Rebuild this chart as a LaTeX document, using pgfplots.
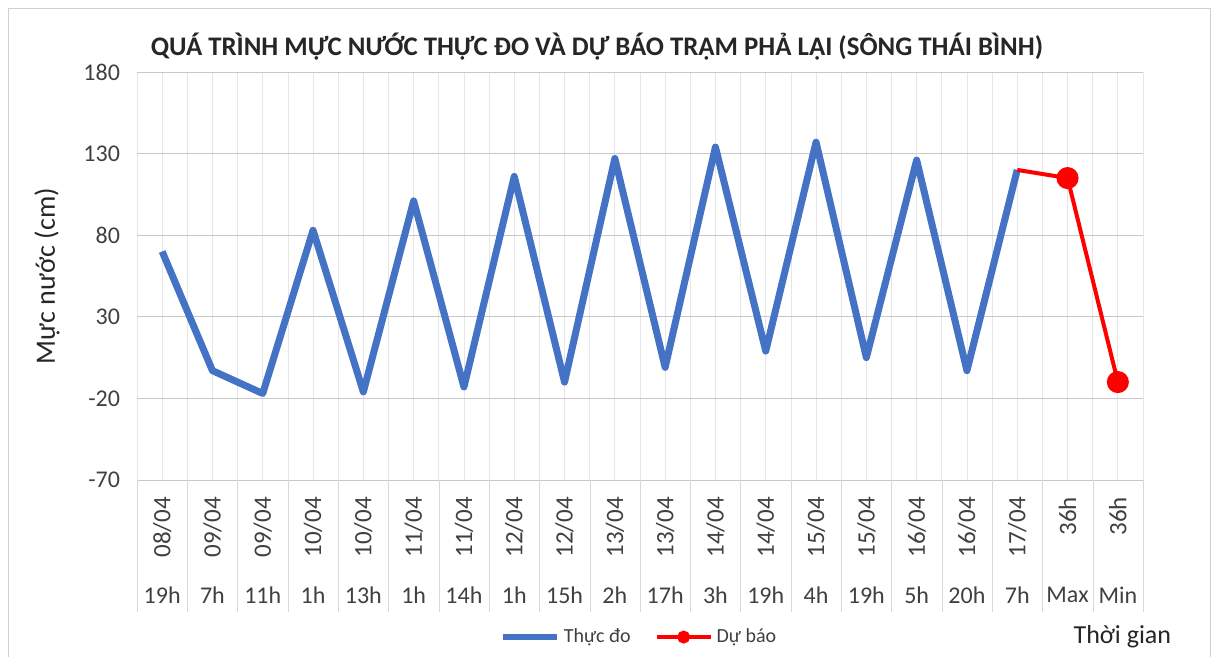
\documentclass[border=0pt]{standalone}
\usepackage{pgfplots}
\pgfplotsset{compat=1.18}
\usepackage{fontspec}
\setmainfont{Carlito}
\definecolor{excelblue}{HTML}{4472C4}
\definecolor{excelred}{HTML}{FF0000}
\definecolor{gridh}{HTML}{C8C8C8}
\definecolor{gridv}{HTML}{E6E6E6}
\definecolor{framegray}{HTML}{D0D0D0}
\definecolor{txt}{HTML}{404040}

\begin{document}
\begin{tikzpicture}
\useasboundingbox (-68.5pt,-88.5pt) rectangle (540pt,240pt);
\draw[framegray] (-64.5pt,236pt) rectangle (536.5pt,-95pt);
\node[font=\bfseries\fontsize{13.4}{15}\selectfont, text=black!85] at (230pt,216.5pt)
  {QUÁ TRÌNH MỰC NƯỚC THỰC ĐO VÀ DỰ BÁO TRẠM PHẢ LẠI (SÔNG THÁI BÌNH)};
\begin{axis}[
  at={(0pt,0pt)}, anchor=south west,
  scale only axis, width=503pt, height=204pt,
  clip=false,
  xmin=-0.5, xmax=19.5,
  ymin=-70, ymax=180,
  ytick={-70,-20,...,180},
  xtick={0,...,19},
  minor xtick={-0.5,0.5,...,19.5},
  xticklabels={08/04,09/04,09/04,10/04,10/04,11/04,11/04,12/04,12/04,13/04,
               13/04,14/04,14/04,15/04,15/04,16/04,16/04,17/04,36h,36h},
  xticklabel style={yshift=-5pt, rotate=90, anchor=east, font=\fontsize{12.5}{14}\selectfont, text=txt},
  yticklabel style={font=\fontsize{12}{14}\selectfont, text=txt, xshift=-5pt},
  /pgf/number format/assume math mode=true,
  tick pos=left, tick align=outside,
  major tick length=0pt, minor tick length=66pt,
  minor tick style={gridh!70},
  axis line style={draw=none},
  xmajorgrids, xminorgrids, ymajorgrids,
  major grid style={gridv},
  minor grid style={gridv},
  y grid style={gridh},
  ylabel={Mực nước (cm)},
  every axis y label/.style={at={(rel axis cs:0,0.5)}, xshift=-45pt, rotate=90, anchor=center,
    font=\fontsize{14}{16}\selectfont, text=black!85},
  legend style={at={(0.5,-0.385)}, anchor=center, draw=none, fill=none,
    legend columns=2, font=\fontsize{10}{12}\selectfont, text=txt,
    /tikz/every even column/.append style={column sep=10pt},
    inner sep=0pt, row sep=0pt},
  legend image code/.code={\draw[mark repeat=2,mark phase=2,#1]
    plot coordinates {(0pt,0pt) (13.5pt,0pt) (27pt,0pt)};},
]
\addplot[excelblue, line width=3.5pt, line join=round, forget plot] coordinates {
  (0,70) (1,-3) (2,-17) (3,83) (4,-16) (5,101) (6,-13) (7,116) (8,-10) (9,127)
  (10,-1) (11,134) (12,9) (13,137) (14,5) (15,126) (16,-3) (17,120)
};
\addplot[excelred, line width=2pt, mark=*, mark size=4.5pt, mark indices={2,3}, forget plot]
  coordinates {(17,120) (18,115) (19,-10)};

\addlegendimage{excelblue, line width=3pt}
\addlegendentry{Thực đo}
\addlegendimage{excelred, line width=2pt, mark=*, mark size=2.2pt}
\addlegendentry{Dự báo}

\tikzset{hr/.style={font=\fontsize{12}{14}\selectfont, text=txt, anchor=center, yshift=-57.5pt}}
\node[hr] at (axis cs:0,-70) {19h};
\node[hr] at (axis cs:1,-70) {7h};
\node[hr] at (axis cs:2,-70) {11h};
\node[hr] at (axis cs:3,-70) {1h};
\node[hr] at (axis cs:4,-70) {13h};
\node[hr] at (axis cs:5,-70) {1h};
\node[hr] at (axis cs:6,-70) {14h};
\node[hr] at (axis cs:7,-70) {1h};
\node[hr] at (axis cs:8,-70) {15h};
\node[hr] at (axis cs:9,-70) {2h};
\node[hr] at (axis cs:10,-70) {17h};
\node[hr] at (axis cs:11,-70) {3h};
\node[hr] at (axis cs:12,-70) {19h};
\node[hr] at (axis cs:13,-70) {4h};
\node[hr] at (axis cs:14,-70) {19h};
\node[hr] at (axis cs:15,-70) {5h};
\node[hr] at (axis cs:16,-70) {20h};
\node[hr] at (axis cs:17,-70) {7h};
\node[hr] at (axis cs:18,-70) {Max};
\node[hr] at (axis cs:19,-70) {Min};

\node[font=\fontsize{13}{15}\selectfont, text=black!85, anchor=east]
  at (rel axis cs:1.035,-0.385) {Thời gian};
\end{axis}
\end{tikzpicture}
\end{document}
